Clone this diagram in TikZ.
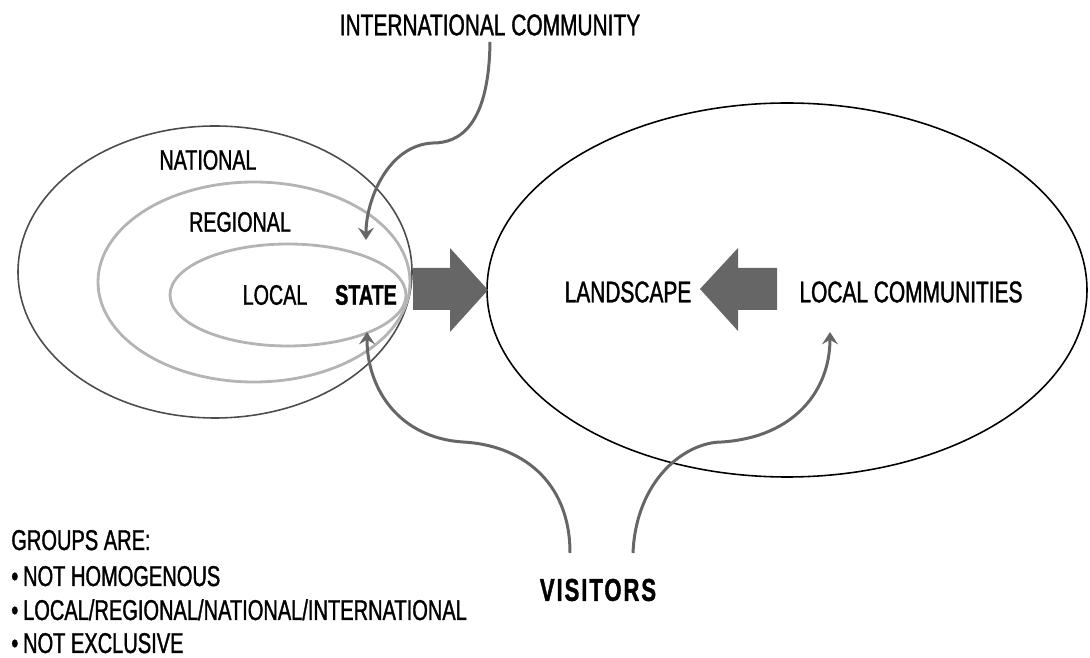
\documentclass[tikz,border=0pt]{standalone}
\usepackage{fontspec}
\setmainfont[FakeStretch=0.7, FakeBold=1.2]{Liberation Sans}
\usetikzlibrary{arrows.meta}
\definecolor{arrowgray}{HTML}{666666}
\definecolor{ringgray}{HTML}{B4B4B4}

\begin{document}
\begin{tikzpicture}[x=0.02cm, y=-0.02cm, >={Stealth[length=7pt, width=9pt, inset=2.6pt]},
    lab/.style={font=\fontsize{16}{18}\selectfont},
    big/.style={font=\fontsize{17}{19}\selectfont},
    note/.style={font=\fontsize{16.3}{18}\selectfont, anchor=base west, inner sep=0pt},
    flow/.style={->, draw=arrowgray, line width=1.7pt},
    ring/.style={draw=ringgray, line width=1.6pt},
    block/.style={fill=arrowgray}]
    \useasboundingbox (0,0) rectangle (1090,658);

    \draw[gray!60!black, line width=0.9pt] (215,272) ellipse [x radius=197, y radius=146];
    \draw[ring] (254,282) ellipse [x radius=156, y radius=100];
    \draw[ring] (288,295) ellipse [x radius=118, y radius=51];
    \draw[black, line width=0.9pt] (787,290) ellipse [x radius=300, y radius=187];

    \node[big] (intcom) at (490,25) {INTERNATIONAL COMMUNITY};
    \node[lab] (national) at (208,160) {NATIONAL};
    \node[lab] (regional) at (240,222) {REGIONAL};
    \node[lab] (local) at (275,295) {LOCAL};
    \node[lab, font=\fontsize{16}{18}\selectfont\bfseries] (state) at (366,295) {STATE};
    \node[big] (landscape) at (628,292) {LANDSCAPE};
    \node[big] (localcom) at (911,292) {LOCAL COMMUNITIES};
    \node[big, font=\fontsize{18}{20}\selectfont\bfseries\addfontfeature{LetterSpace=6}] (visitors) at (598,590) {VISITORS};

    \node[note] (groups) at (11,550) {GROUPS ARE:};
    \node[note] (grpa) at (11,586) {•\,NOT HOMOGENOUS};
    \node[note] (grpb) at (11,620) {•\,LOCAL/REGIONAL/NATIONAL/INTERNATIONAL};
    \node[note] (grpc) at (11,653) {•\,NOT EXCLUSIVE};

    \fill[block] (413,268) -- (450,268) -- (450,248) -- (488,290) -- (450,332) -- (450,310) -- (413,310) -- cycle;
    \fill[block] (777,268) -- (738,268) -- (738,248) -- (700,289) -- (738,331) -- (738,310) -- (777,310) -- cycle;

    \coordinate (icbend) at (433,143);
    \coordinate (stateup) at (366,240);
    \coordinate (statedown) at (367,332);
    \coordinate (lcdown) at (830,332);
    \coordinate (vleft) at (570,553);
    \coordinate (vright) at (633,553);

    \draw[flow] (intcom.south) .. controls (489,125) and (460,143) .. (icbend)
        .. controls (388,145) and (366,200) .. (stateup);
    \draw[flow] (vleft) .. controls (570,480) and (520,445) .. (463,442)
        .. controls (400,438) and (367,390) .. (statedown);
    \draw[flow] (vright) .. controls (636,480) and (685,442) .. (722,442)
        .. controls (795,437) and (830,390) .. (lcdown);
\end{tikzpicture}
\end{document}
